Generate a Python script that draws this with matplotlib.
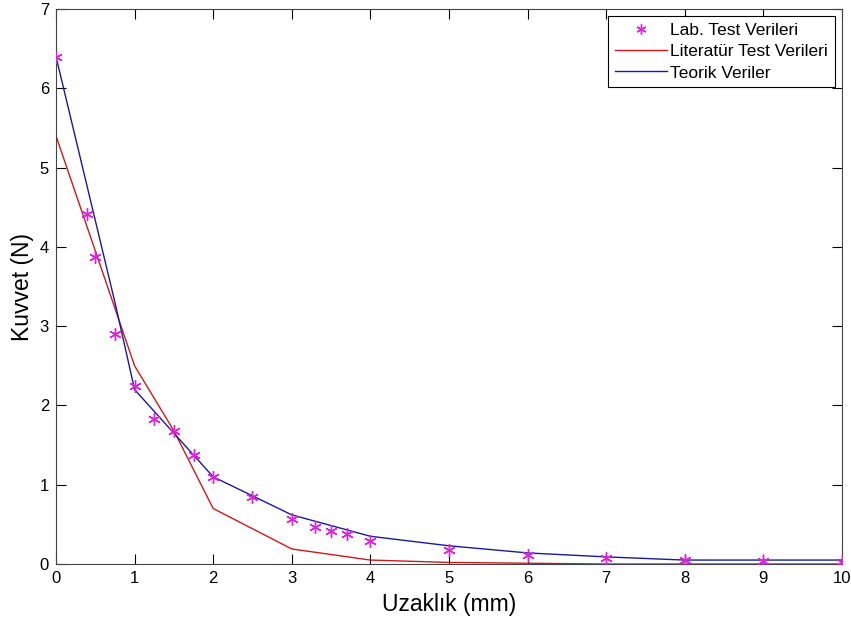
import matplotlib.pyplot as plt

plt.rcParams['font.family'] = ['Liberation Sans', 'DejaVu Sans']

# Lab test data (stars)
lab_x = [0, 0.4, 0.5, 0.75, 1.0, 1.25, 1.5, 1.75, 2.0, 2.5, 3.0, 3.3, 3.5, 3.7, 4.0, 5, 6, 7, 8, 9, 10]
lab_y = [6.4, 4.42, 3.87, 2.9, 2.25, 1.83, 1.68, 1.38, 1.1, 0.85, 0.57, 0.47, 0.42, 0.38, 0.29, 0.18, 0.11, 0.07, 0.05, 0.04, 0.03]

# Literature test data (red line)
lit_x = [0, 1, 1.5, 2, 3, 4, 5, 6, 7, 8, 9, 10]
lit_y = [5.4, 2.5, 1.68, 0.7, 0.19, 0.05, 0.02, 0.01, 0.0, 0.0, 0.0, 0.0]

# Theoretical data (blue line)
teo_x = [0, 0.75, 1, 2, 3, 4, 5, 6, 7, 8, 9, 10]
teo_y = [6.4, 3.3, 2.2, 1.1, 0.62, 0.35, 0.23, 0.14, 0.09, 0.05, 0.05, 0.05]

fig = plt.figure(figsize=(8.51, 6.22), dpi=100)
ax = fig.add_axes([0.0658, 0.0932, 0.9236, 0.8923])

# MATLAB-style asterisk marker
ax.plot(lab_x, lab_y, marker=(6, 2, 0), color='#dd22dd', markersize=9, markeredgewidth=1.0,
        linestyle='none', label='Lab. Test Verileri', zorder=3)
ax.plot(lit_x, lit_y, color='#cc1a1a', lw=1.0, label='Literatür Test Verileri')
ax.plot(teo_x, teo_y, color='#1a1a99', lw=1.0, label='Teorik Veriler')

ax.set_xlim(0, 10)
ax.set_ylim(0, 7)
ax.set_xticks(range(0, 11))
ax.set_yticks(range(0, 8))
ax.tick_params(direction='in', length=7, top=True, right=True, labelsize=12, pad=5)
for s in ax.spines.values():
    s.set_color('#444444')

ax.set_xlabel('Uzaklık (mm)', fontsize=16.5, labelpad=5)
ax.set_ylabel('Kuvvet (N)', fontsize=16.5, labelpad=4)

leg = ax.legend(loc='upper right', fontsize=12.5, fancybox=False, framealpha=1,
                edgecolor='black', borderaxespad=0.4, handlelength=3.0,
                handletextpad=0.2, borderpad=0.4, labelspacing=0.35, markerscale=0.8)
leg.get_frame().set_linewidth(0.8)

fig.savefig('out.png', dpi=100)
